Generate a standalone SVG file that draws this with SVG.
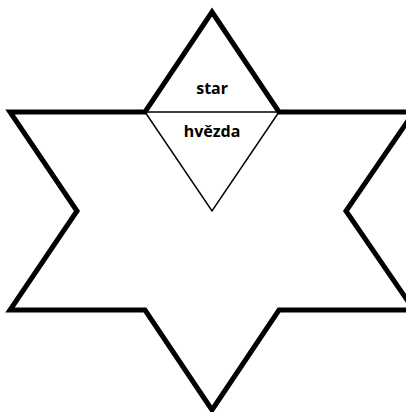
<svg xmlns="http://www.w3.org/2000/svg" width="406" height="412" viewBox="0 0 406 412">
<style>
.star{fill:#fff;stroke:#000;stroke-width:5;stroke-linejoin:miter}
.tri{fill:none;stroke:#000;stroke-width:1.5}
.lbl{font-family:"Comic Sans MS","Noto Sans",sans-serif;font-size:16px;font-weight:bold;fill:#000;text-anchor:middle}
</style>
<rect width="406" height="412" fill="#fff"/>
<g id="star">
<polygon class="star" points="212,12 279,112 414,112 346,211 414,310 279,310 212,410 145,310 10,310 77,211 10,112 145,112"/>
</g>
<g id="connectors">
<polygon class="tri" points="145,112 279,112 212,211"/>
</g>
<g id="label-star">
<text class="lbl" x="212" y="94">star</text>
</g>
<g id="label-hvezda">
<text class="lbl" x="212" y="137">hvězda</text>
</g>
</svg>
